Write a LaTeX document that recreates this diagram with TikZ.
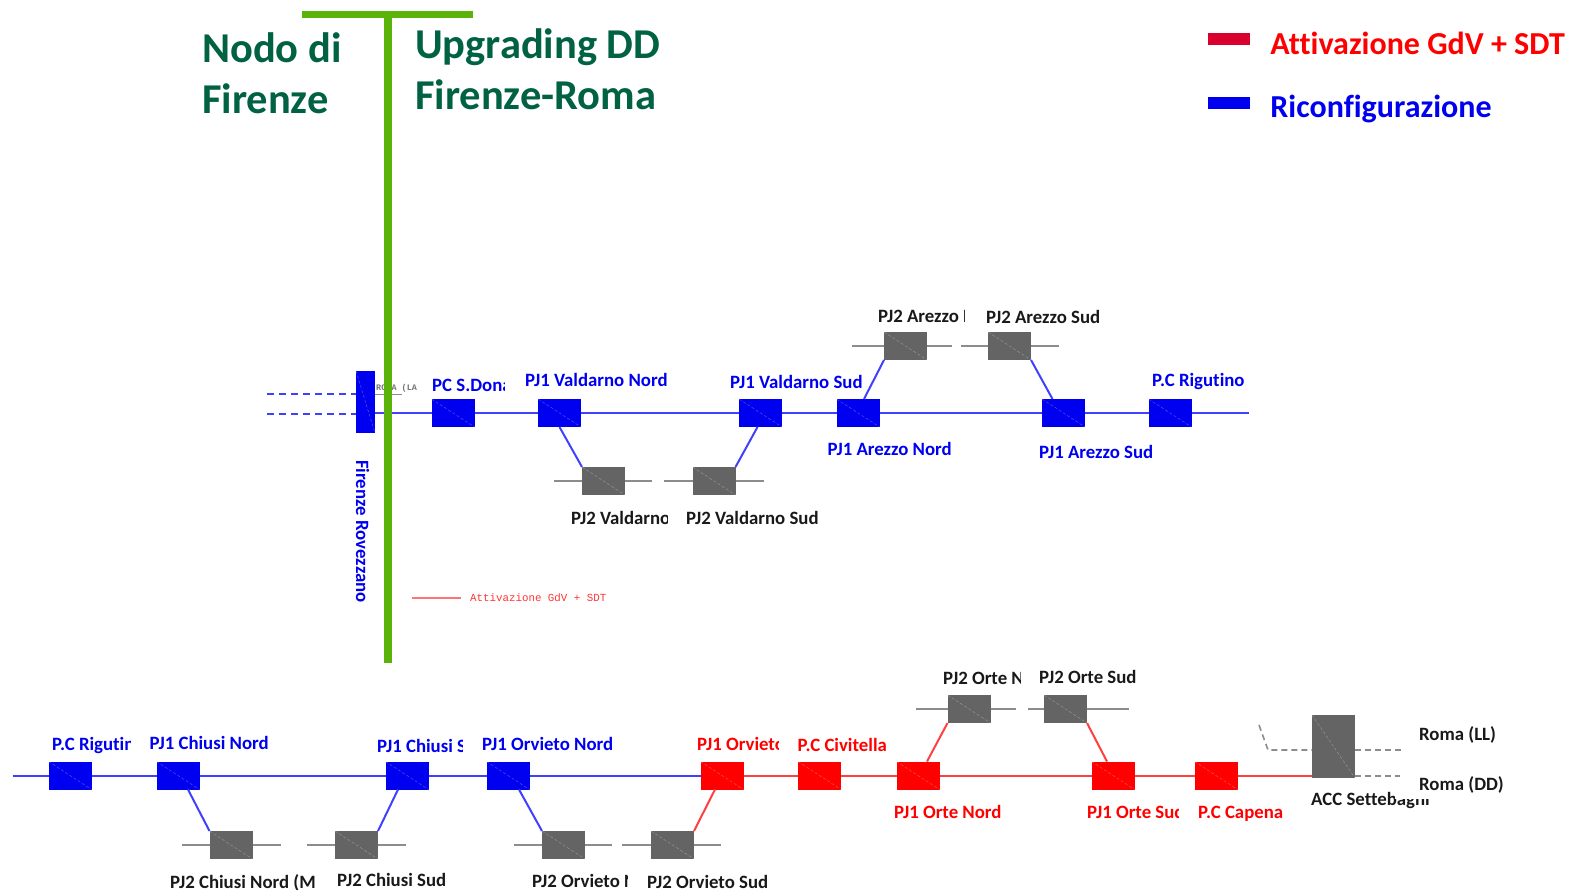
\documentclass[tikz,border=0pt]{standalone}
\usepackage{fontspec}
\setmainfont[Ligatures=NoCommon]{Carlito}
\newfontfamily\monofont{Liberation Mono}
\usepackage{xcolor}
\usetikzlibrary{positioning,calc}
\definecolor{nodegreen}{HTML}{5BB30A}
\definecolor{titlegreen}{HTML}{006243}
\definecolor{legendred}{HTML}{D9002E}
\definecolor{boxblue}{HTML}{0000F0}
\definecolor{boxgray}{HTML}{646464}
\definecolor{linegray}{HTML}{8C8C8C}
% label cut off at a right edge
\newcommand{\cutlabel}[6][lblblue]{\begin{scope}\clip (#3,0) rectangle (#5,890);
  \node[#1, anchor=west, yshift=-1.5pt] (#2) at (#3,#4) {#6};\end{scope}}

\begin{document}
\begin{tikzpicture}[
    x=1pt, y=-1pt,
    box/.style={minimum width=43pt, minimum height=28pt, inner sep=0pt, outer sep=0pt,
      path picture={\draw[white, opacity=.3, densely dashed, line width=.5pt] (path picture bounding box.north west) -- (path picture bounding box.south east);}},
    bluebox/.style={box, fill=boxblue},
    redbox/.style={box, fill=red},
    graybox/.style={box, fill=boxgray},
    lbl/.style={font=\fontsize{18.8}{18.8}\selectfont\bfseries, inner sep=0pt, text height=13.5pt, text depth=2.5pt, xshift=1pt},
    lblblue/.style={lbl, text=boxblue},
    lblred/.style={lbl, text=red},
    lblblack/.style={lbl, text=black!90},
    bline/.style={line width=2pt, blue!75!white},
    rline/.style={line width=2pt, red!75!white},
    stub/.style={line width=2pt, linegray},
    dashline/.style={line width=1.6pt, linegray, dash pattern=on 6pt off 4pt},
    title/.style={font=\fontsize{42.5}{51}\selectfont\bfseries, text=titlegreen, inner sep=0pt, align=left, anchor=west},
    legend/.style={font=\fontsize{32}{32}\selectfont\bfseries, inner sep=0pt, anchor=west},
]
\useasboundingbox (0,0) rectangle (1570,890);
% upper line
\node[bluebox] (sd) at (453,413) {};
\node[bluebox, right=63.5pt of sd] (vn) {};
\node[bluebox, right=158pt of vn] (vs) {};
\node[bluebox, right=54.5pt of vs] (an) {};
\node[bluebox, right=162.5pt of an] (as) {};
\node[bluebox, right=63.5pt of as] (rt) {};
\coordinate[right=57.5pt of rt] (rtend);
\node[bluebox, minimum width=19pt, minimum height=62pt, above left=-34pt and 56.5pt of sd] (rov) {};
\node[graybox, below right=40pt and 1pt of vn] (gvn) {};
\node[graybox, below left=40pt and 3.5pt of vs] (gvs) {};
\node[graybox, above right=39pt and 4.5pt of an] (gan) {};
\node[graybox, above left=39pt and 11pt of as] (gas) {};
\coordinate (da) at (267,394);
\coordinate (db) at (267,414);
\draw[bline] (sd -| rov.east) -- (sd) -- (vn) -- (vs) -- (an) -- (as) -- (rt) -- (rtend);
\draw[bline, line width=1.5pt, dash pattern=on 7pt off 5pt] (da) -- (da -| rov.west);
\draw[bline, line width=1.5pt, dash pattern=on 7pt off 5pt] (db) -- (db -| rov.west);
\draw[bline] (vn.south) -- (gvn.north west);
\draw[bline] ([xshift=-3pt]vs.south) -- (gvs.north east);
\draw[bline] ([xshift=6pt]an.north) -- (gan.south west);
\draw[bline] ([xshift=-11pt]as.north) -- (gas.south east);
\draw[stub] ([xshift=-28pt]gvn.west) -- (gvn.west) (gvn.east) -- ([xshift=27pt]gvn.east);
\draw[stub] ([xshift=-29pt]gvs.west) -- (gvs.west) (gvs.east) -- ([xshift=28pt]gvs.east);
\draw[stub] ([xshift=-32pt]gan.west) -- (gan.west) (gan.east) -- ([xshift=25pt]gan.east);
\draw[stub] ([xshift=-27pt]gas.west) -- (gas.west) (gas.east) -- ([xshift=28pt]gas.east);
\draw[linegray, line width=1pt] (rov.east |- da) -- ++(27,0) coordinate (romaend);
\node[font=\monofont\bfseries\fontsize{8.5}{9}\selectfont, text=black!55, inner sep=0pt, above right=1.5pt and 1pt of rov.east |- da] (roma) {ROMA (LA};
% upper labels
\node[lblblue, above right=9.5pt and -14pt of vn.north west] (lvn) {PJ1 Valdarno Nord};
\node[lblblue, above right=7.5pt and -10pt of vs.north west] (lvs) {PJ1 Valdarno Sud};
\node[lblblue, above right=9.5pt and 2.5pt of rt.north west] (lrt) {P.C Rigutino};
\node[lblblue, below right=15pt and -10pt of an.south west] (lan) {PJ1 Arezzo Nord};
\node[lblblue, below right=18pt and -4pt of as.south west] (las) {PJ1 Arezzo Sud};
\node[lblblack, below right=16pt and -7.5pt of gvs.south west] (lgvs) {PJ2 Valdarno Sud};
\node[lblblack, above right=5.5pt and -3pt of gas.north west] (lgas) {PJ2 Arezzo Sud};
\cutlabel{lsd}{431}{384}{504}{PC S.Dona}
\cutlabel[lblblack]{lgvn}{570}{517}{667}{PJ2 Valdarno}
\cutlabel[lblblack]{lgan}{877}{316}{964}{PJ2 Arezzo N}
\node[lblblue, rotate=-90, anchor=west] (lrov) at ([xshift=-5pt,yshift=-27pt]rov.south) {Firenze Rovezzano};
% lower line
\node[bluebox] (rb) at (70,775.5) {};
\node[bluebox, right=65pt of rb] (cn) {};
\node[bluebox, right=186pt of cn] (cs) {};
\node[bluebox, right=58pt of cs] (on) {};
\node[redbox, right=171pt of on] (ov) {};
\node[redbox, right=54.5pt of ov] (ci) {};
\node[redbox, right=55.5pt of ci] (ot) {};
\node[redbox, right=152pt of ot] (os) {};
\node[redbox, right=60pt of os] (ca) {};
\node[graybox, minimum height=63pt, above right=-16.5pt and 74.5pt of ca] (acc) {};
\coordinate[left=36pt of rb.west] (rbstart);
\node[graybox, below right=41.5pt and 10pt of cn] (gcn) {};
\node[graybox, below left=41.5pt and 7.5pt of cs] (gcs) {};
\node[graybox, below right=41.5pt and 12.5pt of on] (gon) {};
\node[graybox, below left=41.5pt and 6.5pt of ov] (gov) {};
\node[graybox, above right=38.5pt and 8pt of ot] (got) {};
\node[graybox, above left=38.5pt and 4.5pt of os] (gos) {};
\draw[bline] (rbstart) -- (rb) -- (cn) -- (cs) -- (on) -- (ov);
\draw[rline] (ov) -- (ci) -- (ot) -- (os) -- (ca) -- (ca -| acc.west);
\draw[bline] ([xshift=10pt]cn.south) -- (gcn.north west);
\draw[bline] ([xshift=-9pt]cs.south) -- (gcs.north east);
\draw[bline] ([xshift=11pt]on.south) -- (gon.north west);
\draw[rline] ([xshift=-7pt]ov.south) -- (gov.north east);
\draw[rline] ([xshift=9pt]ot.north) -- (got.south west);
\draw[rline] ([xshift=-6pt]os.north) -- (gos.south east);
\draw[stub] ([xshift=-28pt]gcn.west) -- (gcn.west) (gcn.east) -- ([xshift=28pt]gcn.east);
\draw[stub] ([xshift=-28pt]gcs.west) -- (gcs.west) (gcs.east) -- ([xshift=28pt]gcs.east);
\draw[stub] ([xshift=-28pt]gon.west) -- (gon.west) (gon.east) -- ([xshift=27pt]gon.east);
\draw[stub] ([xshift=-29pt]gov.west) -- (gov.west) (gov.east) -- ([xshift=27pt]gov.east);
\draw[stub] ([xshift=-32pt]got.west) -- (got.west) (got.east) -- ([xshift=25pt]got.east);
\draw[stub] ([xshift=-16pt]gos.west) -- (gos.west) (gos.east) -- ([xshift=42pt]gos.east);
\coordinate (ka) at (1259,725);
\coordinate (kb) at (1268,750);
\coordinate (kc) at (1402,750);
\coordinate (kd) at (1400,776);
\draw[dashline] (ka) -- (kb) -- (kb -| acc.west);
\draw[dashline] (kc -| acc.east) -- (kc);
\draw[dashline] (kd -| acc.east) -- (kd);
% lower labels
\node[lblblue, above right=9pt and -8pt of cn.north west] (lcn) {PJ1 Chiusi Nord};
\node[lblblue, above right=8pt and -5.5pt of on.north west] (lon) {PJ1 Orvieto Nord};
\node[lblred, above right=7pt and -1.5pt of ci.north west] (lci) {P.C Civitella};
\node[lblred, below right=15pt and -3.5pt of ot.south west] (lot) {PJ1 Orte Nord};
\node[lblred, below right=15pt and 2.5pt of ca.south west] (lca) {P.C Capena};
\node[lblblack, above right=8.5pt and -6pt of gos.north west] (lgos) {PJ2 Orte Sud};
\node[lblblack, below right=13.5pt and 1pt of gcs.south west] (lgcs) {PJ2 Chiusi Sud};
\node[lblblack, below right=15.5pt and -5pt of gov.south west] (lgov) {PJ2 Orvieto Sud};
\node[lblblack, below right=11.5pt and 63pt of acc.north east] (lll) {Roma (LL)};
\node[lblblack, below right=61.5pt and 63pt of acc.north east] (ldd) {Roma (DD)};
\cutlabel{lrb}{51}{743}{130}{P.C Rigutino}
\cutlabel{lcs}{376}{745}{462}{PJ1 Chiusi S}
\cutlabel[lblred]{lov}{696}{743}{778}{PJ1 Orvieto}
\cutlabel[lblred]{los}{1086}{811}{1178}{PJ1 Orte Sud}
\cutlabel[lblblack]{lgot}{942}{677}{1020}{PJ2 Orte N}
\cutlabel[lblblack]{lgcn}{169}{881}{318}{PJ2 Chiusi Nord (M}
\cutlabel[lblblack]{lgon}{531}{880}{627}{PJ2 Orvieto N}
\begin{scope}
\clip (1300,788) -- (1394,788) -- (1394,799) -- (1429,799) -- (1429,812) -- (1300,812) -- cycle;
\node[lblblack, anchor=west] (lacc) at (1310,800) {ACC Settebagni};
\end{scope}
% separation between the two works
\coordinate (gl) at (302,15);
\coordinate (gr) at (473,15);
\coordinate (gt) at (388,15);
\coordinate (gb) at (388,663);
\draw[nodegreen, line width=7pt] (gl) -- (gr);
\draw[nodegreen, line width=8pt] (gt) -- (gb);
\node[title] (nodo) at (202,73.5) {Nodo di\\Firenze};
\node[title] (upg) at (415,69.5) {Upgrading DD\\Firenze-Roma};
% small note
\coordinate (na) at (412,598);
\coordinate (nb) at (461,598);
\draw[red!55, line width=1.8pt] (na) -- (nb);
\node[font=\monofont\fontsize{10.8}{11}\selectfont, text=red!80, inner sep=0pt, right=9pt of nb] (note) {Attivazione GdV + SDT};
% legend
\node[fill=legendred, minimum width=42pt, minimum height=12pt, inner sep=0pt] (kred) at (1229,39) {};
\node[fill=boxblue, minimum width=42pt, minimum height=12pt, inner sep=0pt] (kblue) at (1229,103) {};
\node[legend, text=red, right=20pt of kred.east, yshift=-4pt, anchor=west] (tred) {Attivazione GdV + SDT};
\node[legend, text=boxblue, right=20pt of kblue.east, yshift=-6pt, anchor=west] (tblue) {Riconfigurazione};
\end{tikzpicture}
\end{document}
